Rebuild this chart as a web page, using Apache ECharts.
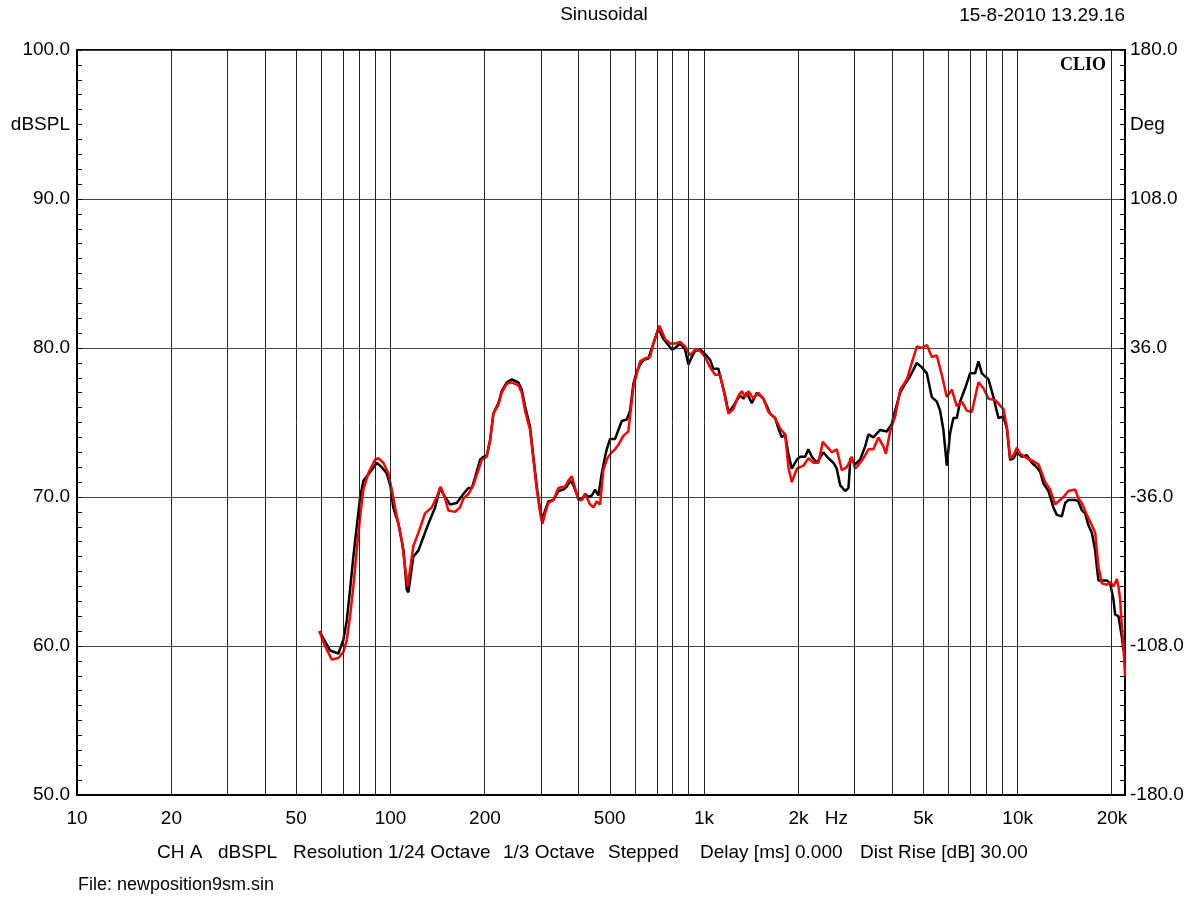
<!DOCTYPE html>
<html><head><meta charset="utf-8">
<script src="https://cdn.jsdelivr.net/npm/echarts@6/dist/echarts.min.js"></script>
<style>html,body{margin:0;padding:0;background:#fff}#c{width:1201px;height:897px}</style>
</head><body><div id="c"></div>
<script>
// ---- data (frequency Hz, level dBSPL) ----
const blackResponse = [
[59.3,61.0],[64.1,59.7],[68.2,59.5],[70.7,60.4],[72.5,61.7],[74.3,63.8],[76.1,66.0],[78.0,68.0],[80.0,70.0],[82.0,71.1],
[87.0,71.8],[90.4,72.3],[93.7,72.0],[97.2,71.6],[100,70.7],[102,69.3],[106,68.2],[110,66.4],[112.6,63.8],[114,63.6],
[115.4,64.4],[118.2,66.0],[122.7,66.4],[127.2,67.3],[132,68.2],[138.7,69.3],[143.8,70.6],[149.2,70.0],[154.8,69.5],[162.6,69.6],
[170.7,70.2],[177.1,70.6],[181.6,70.6],[186,71.3],[193,72.5],[197.7,72.7],[202.7,72.8],[207.7,73.8],[212.8,75.6],[220.8,76.3],
[226.3,77.1],[234.8,77.7],[243.6,77.9],[255.6,77.7],[262.1,77.2],[268.5,76.1],[278.6,74.7],[285.5,72.7],[292.7,70.7],[299.9,69.1],
[305,68.5],[311.1,69.1],[318.7,69.7],[330.6,69.8],[343,70.4],[355.9,70.5],[364.8,70.7],[373.8,71.1],[382.9,70.8],[397.2,69.9],
[407.3,69.8],[417.3,70.2],[427.6,70.0],[438.4,70.1],[449.1,70.5],[460.1,70.1],[471.7,71.6],[483.3,72.7],[489.3,73.2],[501.4,73.9],
[507.7,74.0],[520.1,73.9],[532.9,74.5],[546.4,75.1],[566.8,75.2],[580.8,75.8],[595,77.6],[610,78.4],[625.1,78.9],[640.4,79.2],
[664.3,79.3],[689.2,80.3],[715,81.3],[741.8,80.6],[769.4,80.2],[788.9,79.9],[808.2,80.0],[838.4,80.3],[869.8,79.9],[891.1,78.9],
[913.8,79.4],[936.1,79.8],[971,79.9],[1007,79.6],[1045,79.2],[1071,78.6],[1111,78.6],[1125,78.1],[1167,76.8],[1196,75.7],
[1240,76.1],[1271,76.5],[1302,76.8],[1335,76.6],[1368,77.0],[1420,76.3],[1473,77.0],[1546,76.6],[1585,76.1],[1624,75.6],
[1685,75.3],[1726,74.6],[1770,74.0],[1813,74.2],[1857,72.9],[1904,71.9],[1976,72.5],[2024,72.7],[2100,72.7],[2151,73.2],
[2206,72.7],[2288,72.3],[2401,73.0],[2491,72.6],[2584,72.3],[2649,71.9],[2716,70.8],[2817,70.4],[2886,70.6],[2930,72.6],
[3032,72.2],[3145,72.5],[3263,73.4],[3343,74.2],[3467,74.0],[3642,74.5],[3826,74.4],[3969,74.9],[4067,75.8],[4220,77.0],
[4378,77.6],[4541,78.1],[4770,79.0],[4948,78.7],[5134,78.3],[5325,76.7],[5524,76.4],[5659,75.8],[5798,74.5],[5945,72.1],
[6091,74.3],[6239,75.3],[6397,75.3],[6554,76.4],[6800,77.3],[7055,78.3],[7318,78.3],[7499,79.1],[7689,78.3],[7878,78.1],
[8071,77.9],[8372,76.7],[8685,75.3],[9010,75.4],[9238,74.6],[9465,72.5],[9697,72.6],[9940,73.0],[10313,72.7],[10698,72.8],
[11099,72.3],[11513,72.0],[11797,71.7],[12087,70.9],[12539,70.4],[13003,69.3],[13335,68.8],[13836,68.7],[14178,69.6],[14521,69.8],
[15256,69.8],[15629,69.7],[16025,69.1],[16418,68.9],[16818,68.1],[17245,67.6],[17672,66.4],[17893,65.3],[18104,64.4],[19256,64.4],
[19732,64.2],[20216,63.1],[20469,62.1],[20971,62.0],[21500,60.6],[21754,59.7],[22000,59.5]
];
const redResponse = [
[59.3,61.0],[61.8,60.0],[64.9,59.1],[68.2,59.2],[70.7,59.6],[72.5,60.4],[74.3,62.0],[76.1,64.0],[78,66.4],[80,68.7],
[81.9,70.5],[85,71.6],[89.2,72.5],[91.4,72.6],[94.8,72.3],[98.4,71.6],[100.9,70.5],[104.7,68.7],[108.6,67.1],[111.3,65.3],
[113.2,64.0],[115.4,65.1],[118.2,66.7],[122.7,67.6],[128.8,68.9],[135.3,69.3],[140.4,70.0],[144.5,70.7],[149.2,69.9],[152.9,69.1],
[160.6,69.0],[166.6,69.3],[170.7,69.9],[177.1,70.2],[183.7,70.8],[190.6,71.8],[195.4,72.5],[202.7,72.7],[207.7,73.8],[212.8,75.6],
[220.8,76.2],[226.3,77.0],[234.8,77.6],[243.6,77.7],[255.6,77.5],[262.1,77.0],[268.5,75.8],[278.6,74.5],[285.5,72.5],[292.7,70.5],
[301.4,68.7],[305,68.2],[311.1,68.9],[318.7,69.6],[330.6,69.8],[343,70.6],[360.3,70.7],[369.1,71.1],[378.4,71.4],[387.7,70.6],
[397.2,69.8],[407.3,69.8],[417.3,70.2],[433,69.5],[443.6,69.3],[454.7,69.7],[465.9,69.5],[477.3,71.8],[489.3,72.5],[495.1,72.7],
[507.7,73.0],[520.1,73.2],[532.9,73.5],[552.8,74.1],[573.5,74.4],[595,77.4],[610,78.3],[625.1,79.1],[648.4,79.3],[672.7,79.4],
[689.2,80.3],[720.3,81.5],[751,80.6],[779,80.3],[808.2,80.3],[838.4,80.4],[869.8,80.1],[902.3,79.5],[936.1,79.9],[971,79.8],
[1007,79.4],[1045,78.7],[1084,78.2],[1125,78.2],[1152,77.2],[1196,75.6],[1240,75.9],[1286,76.8],[1319,77.1],[1351,76.7],
[1384,77.1],[1437,76.6],[1490,77.0],[1546,76.6],[1604,75.7],[1685,75.3],[1748,74.6],[1813,74.2],[1857,72.0],[1904,71.0],
[1976,71.9],[2074,72.1],[2151,72.6],[2232,72.3],[2315,72.3],[2391,73.7],[2462,73.4],[2554,73.0],[2649,73.2],[2749,71.8],
[2853,72.0],[2959,72.7],[3032,71.9],[3120,72.2],[3222,72.6],[3343,73.2],[3467,73.2],[3597,74.0],[3731,73.4],[3800,72.9],
[3920,74.4],[4067,75.4],[4220,77.2],[4433,77.9],[4598,79.0],[4770,80.1],[4948,80.0],[5134,80.2],[5325,79.4],[5524,79.5],
[5730,78.2],[5945,76.7],[6167,77.2],[6397,76.1],[6637,76.4],[6885,75.8],[7143,75.7],[7318,76.7],[7499,77.7],[7780,77.3],
[8071,76.6],[8478,76.5],[9010,75.9],[9238,74.7],[9465,72.6],[9697,72.8],[9940,73.3],[10185,72.9],[10698,72.6],[11230,72.4],
[11650,72.2],[11946,71.6],[12238,71.0],[12693,70.5],[13166,69.5],[13493,69.7],[13998,70.0],[14521,70.4],[15256,70.5],[15629,69.9],
[16025,69.6],[16623,68.8],[17245,68.1],[17672,67.6],[17893,66.4],[18104,65.3],[18564,64.2],[19256,64.1],[19732,64.3],[20216,64.0],
[20726,64.5],[20971,64.0],[21234,63.1],[21500,61.3],[21754,60.0],[22000,58.0]
];

// ---- axes / ticks ----
const freqMin = 10, freqMax = 22000;
const freqTicks = [10, 20, 50, 100, 200, 500, 1000, 2000, 5000, 10000, 20000];
const freqTickLabels = ['10', '20', '50', '100', '200', '500', '1k', '2k', '5k', '10k', '20k'];
const unitFreq = 2640, unitLabel = 'Hz';
const gridFreqs = [20,30,40,50,60,70,80,90,100,200,300,400,500,600,700,800,900,1000,2000,3000,4000,5000,6000,7000,8000,9000,10000,20000];
const dbMin = 50, dbMax = 100, dbStep = 10;
const dbUnitValue = 95, dbUnitLabel = 'dBSPL';
const degMin = -180, degMax = 180, degStep = 72;
const degUnitValue = 144, degUnitLabel = 'Deg';
const titleText = 'Sinusoidal';
const dateText = '15-8-2010 13.29.16';
const brandText = 'CLIO';
const infoItems = [['CH A',157],['dBSPL',218],['Resolution 1/24 Octave',293],['1/3 Octave',503],['Stepped',608],['Delay [ms] 0.000',700],['Dist Rise [dB] 30.00',860]];
const fileText = 'File: newposition9sm.sin';

const FONT = "'Liberation Sans', Arial, sans-serif";
const FS = 19;
const lg = Math.log10;

const chart = echarts.init(document.getElementById('c'), null, {renderer: 'canvas'});

const labelMap = {};
freqTicks.forEach((f, i) => { labelMap[lg(f).toFixed(4)] = freqTickLabels[i]; });
labelMap[lg(unitFreq).toFixed(4)] = unitLabel;

const graphics = [
  {type:'text', x:604, y:15, style:{text:titleText, font:FS+'px '+FONT, fill:'#000', align:'center', verticalAlign:'middle'}},
  {type:'text', x:1125, y:16, style:{text:dateText, font:FS+'px '+FONT, fill:'#000', align:'right', verticalAlign:'middle'}},
  {type:'text', x:1106, y:65, z:100, style:{text:brandText, font:"bold 18px 'Liberation Serif', 'DejaVu Serif', serif", fill:'#000', align:'right', verticalAlign:'middle'}},
  {type:'text', x:78, y:885, style:{text:fileText, font:'18px '+FONT, fill:'#000', align:'left', verticalAlign:'middle'}}
];
infoItems.forEach(([t, x]) => graphics.push({type:'text', x:x, y:853, style:{text:t, font:FS+'px '+FONT, fill:'#000', align:'left', verticalAlign:'middle'}}));

chart.setOption({
  animation: false,
  backgroundColor: '#fff',
  grid: {left:77, right:76, top:50, bottom:102, show:true, borderColor:'#000', borderWidth:2, backgroundColor:'transparent'},
  xAxis: {
    type:'value', min: lg(freqMin), max: lg(freqMax),
    axisLine:{show:true, onZero:false, lineStyle:{color:'#000', width:2}},
    axisTick:{show:false}, splitLine:{show:false},
    axisLabel:{
      customValues: freqTicks.map(lg).concat([lg(unitFreq)]),
      formatter: v => labelMap[Number(v).toFixed(4)] || '',
      color:'#000', fontSize:FS, fontFamily:FONT, margin:14
    }
  },
  yAxis: [
    {
      type:'value', min:dbMin, max:dbMax, interval:dbStep, position:'left',
      axisLine:{show:true, onZero:false, lineStyle:{color:'#000', width:2}},
      axisTick:{show:true, inside:true, length:5, lineStyle:{color:'#000', width:1}},
      minorTick:{show:true, splitNumber:10, length:5, lineStyle:{color:'#000', width:1}},
      splitLine:{show:true, lineStyle:{color:'#444', width:1}},
      axisLabel:{
        customValues:[50,60,70,80,90,dbUnitValue,100],
        formatter: v => (v === dbUnitValue ? dbUnitLabel : Number(v).toFixed(1)),
        color:'#000', fontSize:FS, fontFamily:FONT, margin:7
      }
    },
    {
      type:'value', min:degMin, max:degMax, interval:degStep, position:'right',
      axisLine:{show:true, onZero:false, lineStyle:{color:'#000', width:2}},
      axisTick:{show:true, inside:true, length:5, lineStyle:{color:'#000', width:1}},
      minorTick:{show:true, splitNumber:10, length:5, lineStyle:{color:'#000', width:1}},
      splitLine:{show:false},
      axisLabel:{
        customValues:[-180,-108,-36,36,108,degUnitValue,180],
        formatter: v => (v === degUnitValue ? degUnitLabel : Number(v).toFixed(1)),
        color:'#000', fontSize:FS, fontFamily:FONT, margin:5
      }
    }
  ],
  series: [
    {
      type:'line', data:[], z:1, silent:true,
      markLine:{silent:true, symbol:['none','none'], label:{show:false},
        lineStyle:{color:'#222', width:1, type:'solid'},
        emphasis:{disabled:true},
        data: gridFreqs.map(f => ({xAxis: lg(f)}))}
    },
    {
      name:'black', type:'line', z:3, showSymbol:false, symbol:'none',
      lineStyle:{color:'#000', width:2.5}, itemStyle:{color:'#000'},
      data: blackResponse.map(([f, d]) => [lg(f), d])
    },
    {
      name:'red', type:'line', z:4, showSymbol:false, symbol:'none',
      lineStyle:{color:'#ff0000', width:2.5}, itemStyle:{color:'#ff0000'},
      data: redResponse.map(([f, d]) => [lg(f), d])
    }
  ],
  graphic: graphics
});
</script>
</body></html>
